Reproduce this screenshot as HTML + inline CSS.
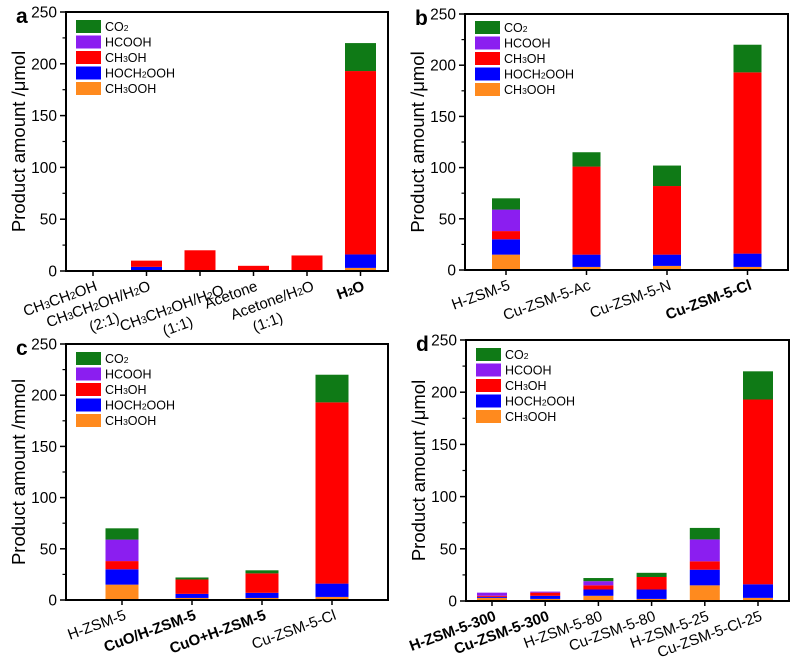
<!DOCTYPE html>
<html><head><meta charset="utf-8">
<style>
html,body{margin:0;padding:0;background:#fff;}
svg{display:block;font-family:"Liberation Sans",Arial,sans-serif;}
</style></head>
<body>
<svg id="fig" width="800" height="659" viewBox="0 0 800 659" xmlns="http://www.w3.org/2000/svg"></svg>
<script>
// Series order bottom->top: CH3OOH, HOCH2OOH, CH3OH, HCOOH, CO2
const seriesNames = ["CH3OOH","HOCH2OOH","CH3OH","HCOOH","CO2"];
const seriesColors = ["#ff8a1e","#0000ff","#ff0000","#8b1ef0","#0f7a16"];
const yTicks = [0,50,100,150,200,250];

const catsA = [["CH3CH2OH"],["CH3CH2OH/H2O","(2:1)"],["CH3CH2OH/H2O","(1:1)"],["Acetone"],["Acetone/H2O","(1:1)"],["H2O"]];
const boldA = [false,false,false,false,false,true];
const ooA = [0,0,0,0,0,3];
const hoA = [0,4,0,0,0,13];
const meA = [0,6,20,5,15,177];
const faA = [0,0,0,0,0,0];
const coA = [0,0,0,0,0,27];

const catsB = [["H-ZSM-5"],["Cu-ZSM-5-Ac"],["Cu-ZSM-5-N"],["Cu-ZSM-5-Cl"]];
const boldB = [false,false,false,true];
const ooB = [15,3,4,3];
const hoB = [15,12,11,13];
const meB = [8,86,67,177];
const faB = [21,0,0,0];
const coB = [11,14,20,27];

const catsC = [["H-ZSM-5"],["CuO/H-ZSM-5"],["CuO+H-ZSM-5"],["Cu-ZSM-5-Cl"]];
const boldC = [false,true,true,false];
const ooC = [15,2,2,3];
const hoC = [15,4,5,13];
const meC = [8,14,19,177];
const faC = [21,0,0,0];
const coC = [11,2,3,27];

const catsD = [["H-ZSM-5-300"],["Cu-ZSM-5-300"],["H-ZSM-5-80"],["Cu-ZSM-5-80"],["H-ZSM-5-25"],["Cu-ZSM-5-Cl-25"]];
const boldD = [true,true,false,false,false,false];
const ooD = [3,2,5,2,15,3];
const hoD = [1,3,6,9,15,13];
const meD = [1,3,4,12,8,177];
const faD = [3,1,4,0,21,0];
const coD = [0,0,3,4,11,27];

const NS="http://www.w3.org/2000/svg";
const fig=document.getElementById('fig');
function mk(tag,attrs,parent){const e=document.createElementNS(NS,tag);for(const k in attrs)e.setAttribute(k,attrs[k]);(parent||fig).appendChild(e);return e;}
function chem(el,str,fs){
  const parts=str.match(/\d+|\D+/g)||[];
  const isFormula=/[A-Z]\d/.test(str);
  parts.forEach(p=>{
    const t=document.createElementNS(NS,'tspan');
    if(/^\d+$/.test(p)&&isFormula){t.setAttribute('font-size',fs*0.68);}
    t.textContent=p;el.appendChild(t);
  });
}

function panel(cfg){
  const g=mk('g',{});
  
  
  const L=cfg.left,T=cfg.top,R=cfg.right,B=cfg.bottom;
  const y=v=>B-(v/250)*(B-T);
  const n=cfg.cats.length;
  const x=i=>cfg.x0+i*cfg.step;
  const series=[cfg.oo,cfg.ho,cfg.me,cfg.fa,cfg.co];
  for(let i=0;i<n;i++){
    let base=0;
    for(let s=0;s<5;s++){
      const v=series[s][i];
      if(v>0){
        const r=mk('rect',{x:x(i)-cfg.bw/2,y:y(base+v),width:cfg.bw,height:y(base)-y(base+v),fill:seriesColors[s]},g);
        
        
      }
      base+=v;
    }
  }
  const fr=mk('rect',{x:L,y:T,width:R-L,height:B-T,fill:'none',stroke:'#000','stroke-width':2},g);
  
  
  yTicks.forEach(v=>{
    mk('line',{x1:L-6,x2:L,y1:y(v),y2:y(v),stroke:'#000','stroke-width':1.5},g);
    if(v<250) mk('line',{x1:L-3.5,x2:L,y1:y(v+25),y2:y(v+25),stroke:'#000','stroke-width':1.2},g);
    const t=mk('text',{x:L-9,y:y(v)+5.5,'text-anchor':'end','font-size':15.5},g);
    t.textContent=v;
    
    
  });
  for(let i=0;i<n;i++){
    mk('line',{x1:x(i),x2:x(i),y1:B,y2:B+5,stroke:'#000','stroke-width':1.5},g);
    const lines=cfg.cats[i];
    const off=(cfg.off&&cfg.off[i])||[0,0];
    const gx=mk('g',{transform:`translate(${x(i)+5+off[0]},${B+19+off[1]}) rotate(-20)`},g);
    
    
    lines.forEach((ln,k)=>{
      const t=mk('text',{x:k?-40:0,y:k?19:0,'text-anchor':'end','font-size':15,'font-weight':cfg.bold[i]?'bold':'normal'},gx);
      chem(t,ln,15);
    });
  }
  const yt=mk('text',{transform:`translate(${L-41},${(T+B)/2}) rotate(-90)`,'text-anchor':'middle','font-size':18.5},g);
  yt.textContent='Product amount /'+cfg.unit;
  
  
  const lt=mk('text',{x:L-50,y:T+11,'font-size':21,'font-weight':'bold'},g);
  lt.textContent=cfg.letter;
  
  
  const lg=mk('g',{},g);
  
  
  const order=[4,3,2,1,0];
  const labs=["CH3OOH","HOCH2OOH","CH3OH","HCOOH","CO2"];
  order.forEach((s,k)=>{
    const ry=T+cfg.lgTop+k*15.5;
    const sw=mk('rect',{x:L+10,y:ry,width:25,height:13,fill:seriesColors[s]},lg);
    
    
    const t=mk('text',{x:L+39,y:ry+11,'font-size':12.5},lg);
    chem(t,labs[s],12.5);
    
    
  });
}

panel({letter:'a',left:66,top:12,right:388,bottom:271,x0:93,step:53.5,bw:31,cats:catsA,bold:boldA,oo:ooA,ho:hoA,me:meA,fa:faA,co:coA,unit:'μmol',lgTop:8,off:[[0,0],[0,0],[20,4],[0,0],[3,0],[0,0]]});
panel({letter:'b',left:465,top:14,right:788,bottom:270,x0:506,step:80.5,bw:28,cats:catsB,bold:boldB,oo:ooB,ho:hoB,me:meB,fa:faB,co:coB,unit:'μmol',lgTop:7});
panel({letter:'c',left:66,top:344,right:388,bottom:600,x0:122,step:70,bw:33,cats:catsC,bold:boldC,oo:ooC,ho:hoC,me:meC,fa:faC,co:coC,unit:'mmol',lgTop:8});
panel({letter:'d',left:466,top:340,right:789,bottom:601,x0:492,step:53.2,bw:30,cats:catsD,bold:boldD,oo:ooD,ho:hoD,me:meD,fa:faD,co:coD,unit:'μmol',lgTop:8});
</script>
</body></html>
